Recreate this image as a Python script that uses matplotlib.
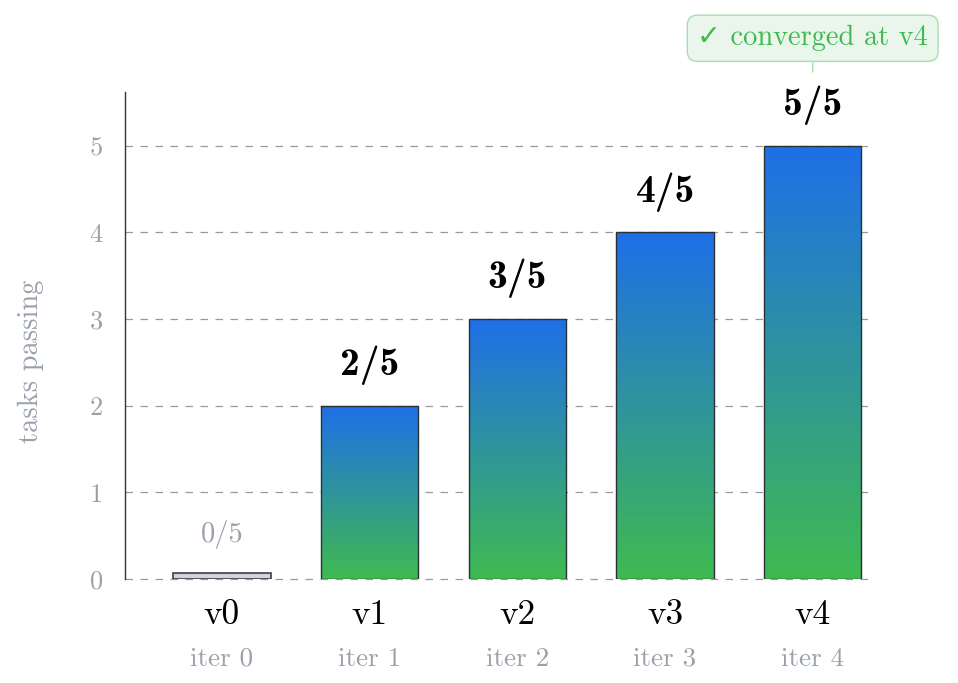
import numpy as np
import matplotlib
matplotlib.use("Agg")
import matplotlib.pyplot as plt
from matplotlib.colors import LinearSegmentedColormap

# ---- data ----
versions = ["v0", "v1", "v2", "v3", "v4"]
iters = ["iter 0", "iter 1", "iter 2", "iter 3", "iter 4"]
passing = [0, 2, 3, 4, 5]
total = 5
stub_height = 0.07  # visual placeholder for the zero bar
annotation_text = "\u2713 converged at v4"

plt.rcParams["font.family"] = ["cmr10", "DejaVu Sans"]
plt.rcParams["mathtext.fontset"] = "cm"
plt.rcParams["axes.unicode_minus"] = False

GREY = "#9aa1ab"
BLUE = "#1f6fe8"
GREEN = "#3fba50"
EDGE = "#2b2f36"

fig = plt.figure(figsize=(9.58, 6.83), dpi=100)
ax = fig.add_axes([0.1305, 0.1523, 0.7795, 0.713])

x = np.arange(len(versions))
width = 0.66
cmap = LinearSegmentedColormap.from_list("bg", [GREEN, BLUE])
grad = np.linspace(0, 1, 256).reshape(-1, 1)

for xi, v in zip(x, passing):
    if v == 0:
        ax.bar(xi, stub_height, width=width, color="#d2d4d8", edgecolor="#3a3f4a",
               linewidth=1.2, zorder=3)
        ax.annotate(f"{v}/{total}", xy=(xi, stub_height), xytext=(0, 28),
                    textcoords="offset points", ha="center", va="center",
                    fontsize=20.5, color=GREY)
    else:
        bar = ax.bar(xi, v, width=width, color="none", edgecolor=EDGE,
                     linewidth=1.0, zorder=4)[0]
        im = ax.imshow(grad, cmap=cmap, origin="lower", aspect="auto",
                       extent=[xi - width / 2, xi + width / 2, 0, v], zorder=3)
        im.set_clip_path(bar)
        ax.annotate(f"{v}/{total}", xy=(xi, v), xytext=(0, 29),
                    textcoords="offset points", ha="center", va="center",
                    fontsize=28.5, color="black", family=["cmb10", "DejaVu Sans"])

ax.set_xlim(-0.656, 4.4)
ax.set_ylim(0, 5.62)
ax.set_aspect("auto")

ax.set_yticks(range(0, 6))
ax.tick_params(axis="y", length=0, pad=16, labelsize=19, labelcolor=GREY)
ax.set_xticks([])
ax.yaxis.grid(True, linestyle=(0, (6, 6)), color="#9a9a9a", linewidth=0.9, zorder=0)
for gl in ax.get_ygridlines():
    gl.set_clip_on(False)
ax.set_axisbelow(True)

for s in ["top", "right", "bottom"]:
    ax.spines[s].set_visible(False)
ax.spines["left"].set_color("#333333")
ax.spines["left"].set_linewidth(1.0)

ax.set_ylabel("tasks passing", fontsize=20.5, color=GREY)
ax.yaxis.set_label_coords(-0.109, 0.446)

for xi, ver, it in zip(x, versions, iters):
    ax.annotate(ver, xy=(xi, 0), xycoords=("data", "axes fraction"),
                xytext=(0, -26), textcoords="offset points",
                ha="center", va="center", fontsize=25.5, color="black")
    ax.annotate(it, xy=(xi, 0), xycoords=("data", "axes fraction"),
                xytext=(0, -57.5), textcoords="offset points",
                ha="center", va="center", fontsize=19.5, color=GREY)

ax.annotate(annotation_text, xy=(4, 5.85), xytext=(4, 6.24),
            ha="center", va="center", fontsize=20.5, color=GREEN,
            annotation_clip=False,
            bbox=dict(boxstyle="round,pad=0.35,rounding_size=0.35",
                      fc="#eaf6ec", ec="#a9dcb1", lw=1.0),
            arrowprops=dict(arrowstyle="-", color="#a9dcb1", lw=1.0,
                            shrinkA=0, shrinkB=0))

fig.savefig("out.png", dpi=100)
